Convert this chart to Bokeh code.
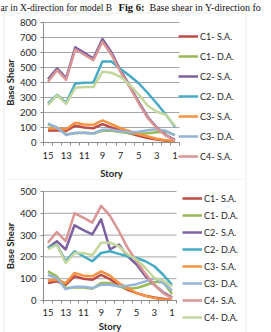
from bokeh.plotting import figure
from bokeh.models import (FixedTicker, Legend, LegendItem, Label, BoxAnnotation,
                          Range1d, LinearAxis)
from bokeh.layouts import column
from bokeh.embed import file_html
from bokeh.resources import INLINE

# Storeys, top (15) to ground (1)
stories = list(range(15, 0, -1))
series_names = ["C1- S.A.", "C1- D.A.", "C2- S.A.", "C2- D.A.",
                "C3- S.A.", "C3- D.A.", "C4- S.A.", "C4- D.A."]
series_colors = ["#BE4B48", "#98B954", "#7D60A0", "#46AAC5",
                 "#F69240", "#95B3D7", "#D99694", "#C3D69B"]

# Base shear, X-direction (model B), storey 15 -> 1
x_c1_sa = [80, 82, 78, 112, 100, 95, 122, 100, 80, 62, 45, 30, 20, 12, 8]
x_c1_da = [120, 100, 55, 62, 65, 60, 78, 78, 70, 62, 58, 62, 68, 72, 50]
x_c2_sa = [422, 495, 430, 635, 598, 560, 690, 600, 480, 380, 270, 170, 100, 50, 18]
x_c2_da = [260, 318, 265, 393, 398, 400, 540, 540, 490, 445, 395, 330, 260, 185, 105]
x_c3_sa = [92, 95, 88, 132, 120, 118, 147, 122, 95, 75, 55, 40, 25, 15, 10]
x_c3_da = [127, 98, 50, 65, 65, 60, 85, 85, 75, 68, 72, 82, 88, 78, 48]
x_c4_sa = [405, 482, 418, 620, 585, 548, 672, 585, 470, 370, 262, 162, 95, 45, 15]
x_c4_da = [250, 315, 258, 365, 370, 370, 472, 465, 438, 385, 320, 245, 205, 185, 112]

# Base shear, Y-direction (model B), storey 15 -> 1
y_c1_sa = [80, 88, 72, 111, 100, 95, 118, 98, 69, 49, 34, 22, 14, 8, 4]
y_c1_da = [134, 111, 57, 60, 60, 54, 80, 80, 65, 54, 57, 70, 85, 85, 30]
y_c2_sa = [241, 272, 234, 345, 323, 303, 372, 234, 257, 203, 165, 111, 72, 37, 14]
y_c2_da = [241, 257, 180, 226, 203, 180, 218, 226, 214, 203, 195, 180, 157, 118, 72]
y_c3_sa = [92, 95, 80, 126, 114, 111, 134, 114, 80, 57, 34, 22, 11, 5, 3]
y_c3_da = [118, 103, 52, 63, 63, 57, 72, 72, 65, 68, 75, 88, 103, 80, 46]
y_c4_sa = [265, 314, 272, 400, 380, 357, 434, 388, 318, 241, 180, 122, 72, 34, 11]
y_c4_da = [234, 257, 172, 218, 218, 208, 265, 265, 249, 211, 188, 149, 103, 91, 65]

x_series = [x_c1_sa, x_c1_da, x_c2_sa, x_c2_da, x_c3_sa, x_c3_da, x_c4_sa, x_c4_da]
y_series = [y_c1_sa, y_c1_da, y_c2_sa, y_c2_da, y_c3_sa, y_c3_da, y_c4_sa, y_c4_da]

x_tick_labels = [15, 13, 11, 9, 7, 5, 3, 1]
x_shear_ticks = list(range(0, 801, 100))
y_shear_ticks = list(range(0, 501, 100))

FONT = "Lato"
GRID = "#A6A6A6"
AXIS = "#8C8C8C"
TEXT = "#262626"
BOX = "#BDBDBD"
W = 271


def base_shear_chart(data, ticks, height, area, legend_loc, item_h, item_gap, n_legend,
                     xlabel_standoff, xtitle_standoff):
    """area = (left, right, top, bottom) of the plotting area in canvas pixels."""
    left, right, top, bottom = area
    ymax = ticks[-1]
    # the frame fills the whole canvas; ranges are widened so the data area
    # lands on the plotting area given above
    xpx = (right - left) / 15.0
    ypx = (bottom - top) / float(ymax)
    x_range = Range1d(15.5 + left / xpx, 0.5 - (W - right) / xpx)
    y_range = Range1d(-(height - bottom) / ypx, ymax + top / ypx)

    p = figure(width=W, height=height, output_backend="svg", toolbar_location=None,
               x_range=x_range, y_range=y_range, title=None,
               x_axis_location=None, y_axis_location=None,
               min_border=0, min_border_left=0, min_border_right=0,
               min_border_top=0, min_border_bottom=0)
    p.outline_line_color = None
    p.background_fill_color = "white"
    p.border_fill_color = "white"
    p.xgrid.visible = False
    p.ygrid.visible = False

    # horizontal gridlines across the plotting area only
    n = len(ticks)
    p.segment(x0=[15.5] * n, x1=[0.5] * n, y0=ticks, y1=ticks,
              line_color=GRID, line_width=1)

    yaxis = LinearAxis(fixed_location=15.5, bounds=(0, ymax),
                       ticker=FixedTicker(ticks=ticks))
    yaxis.major_tick_out = 3
    yaxis.major_tick_in = 0
    yaxis.minor_tick_line_color = None
    yaxis.major_label_standoff = 4
    yaxis.axis_label = "Base Shear"
    yaxis.axis_label_standoff = 1

    xaxis = LinearAxis(fixed_location=0, bounds=(0.5, 15.5),
                       ticker=FixedTicker(ticks=x_tick_labels,
                                          minor_ticks=[s + 0.5 for s in range(0, 16)]))
    xaxis.major_tick_out = 0
    xaxis.major_tick_in = 0
    xaxis.minor_tick_out = 3
    xaxis.minor_tick_in = 0
    xaxis.minor_tick_line_color = AXIS
    xaxis.major_label_standoff = xlabel_standoff
    xaxis.axis_label = "Story"
    xaxis.axis_label_standoff = xtitle_standoff

    for ax in (xaxis, yaxis):
        ax.axis_line_color = AXIS
        ax.major_tick_line_color = AXIS
        ax.major_label_text_font = FONT
        ax.major_label_text_font_size = "9.5px"
        ax.major_label_text_color = TEXT
        ax.axis_label_text_font = FONT
        ax.axis_label_text_font_size = "9.5px"
        ax.axis_label_text_font_style = "bold"
        ax.axis_label_text_color = TEXT
    p.add_layout(yaxis, "left")
    p.add_layout(xaxis, "below")

    items = []
    for name, color, vals in zip(series_names, series_colors, data):
        r = p.line(stories, vals, line_color=color, line_width=2.5, line_join="round")
        items.append(LegendItem(label=name, renderers=[r]))

    legend = Legend(items=items[:n_legend], location=legend_loc, orientation="vertical",
                    padding=0, margin=0, spacing=item_gap,
                    glyph_width=20, glyph_height=item_h, label_height=item_h,
                    label_standoff=2, label_text_font=FONT, label_text_font_size="9px",
                    label_text_color=TEXT, border_line_color=None,
                    background_fill_alpha=0)
    p.add_layout(legend)
    return p


top = base_shear_chart(x_series, x_shear_ticks, 180, (43, 179, 22, 142),
                       (178, 14), 20, 0, 7, 6, 6)
bottom = base_shear_chart(y_series, y_shear_ticks, 152, (43, 176, 11, 120),
                          (182, 7), 16, 1, 8, 5, 2)

# chart area borders (screen units: x from the left, y up from the bottom)
top.add_layout(BoxAnnotation(left=3.5, right=245.5, top=167.5, bottom=0.5,
                             left_units="screen", right_units="screen",
                             top_units="screen", bottom_units="screen",
                             fill_alpha=0, line_color=BOX, line_width=1))
bottom.add_layout(BoxAnnotation(left=3.5, right=245.5, top=160, bottom=-10,
                                left_units="screen", right_units="screen",
                                top_units="screen", bottom_units="screen",
                                fill_alpha=0, line_color=BOX, line_width=1))

# figure captions running above the charts
cap = dict(x_units="screen", y_units="screen", y=173, text_font="Liberation Serif",
           text_baseline="middle", text_color="#111111")
top.add_layout(Label(x=0, text="ar in X-direction for model B", text_font_size="9.5px", **cap))
top.add_layout(Label(x=118, text="Fig 6:", text_font_style="bold", text_font_size="10.5px", **cap))
top.add_layout(Label(x=149, text="Base shear in Y-direction fo", text_font_size="10px", **cap))

layout = column(top, bottom, spacing=0)
open("out.html", "w").write(file_html(layout, INLINE))
